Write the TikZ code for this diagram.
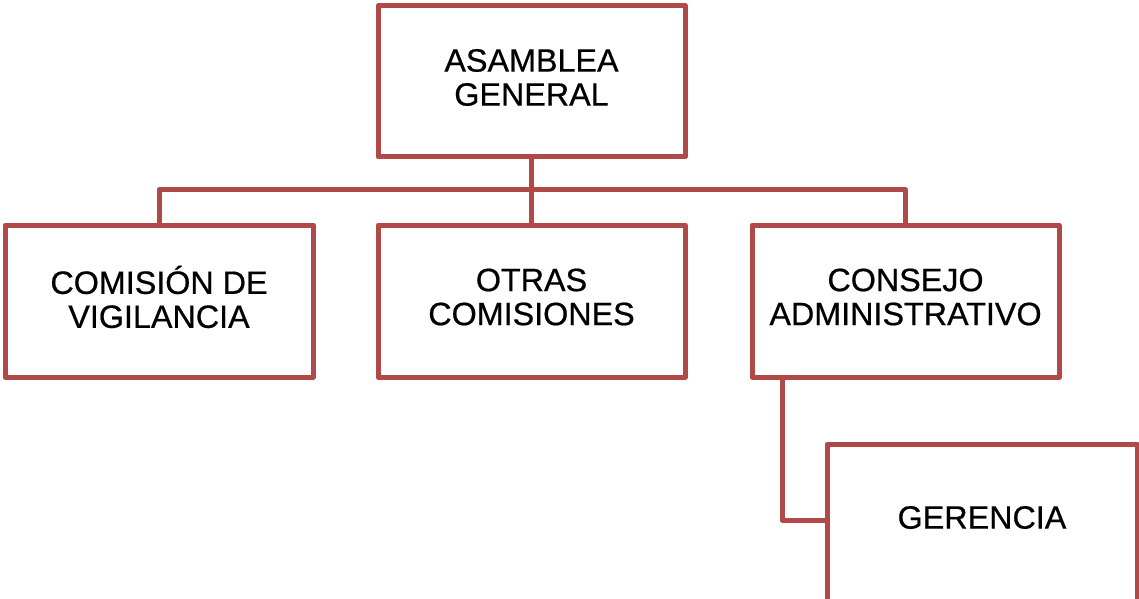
\documentclass[tikz,border=0pt]{standalone}
\usepackage{fontspec}
\setmainfont{Liberation Sans}
\newfontfamily\orgfont{Liberation Sans}[FakeBold=0.6]
\definecolor{boxred}{RGB}{176,74,72}
\begin{document}
\begin{tikzpicture}[x=1pt,y=1pt,
  orgbox/.style={draw=boxred, line width=5pt, line join=round, fill=white,
    minimum width=307pt, minimum height=152pt, inner sep=0pt},
  orglabel/.style={inner sep=0pt, align=center, font=\orgfont\fontsize{32.3}{34}\selectfont},
  conn/.style={draw=boxred, line width=5pt, line join=round}]
\clip (0,0) rectangle (1139,598);
\fill[white] (0,0) rectangle (1139,598);

% bus line height and the elbow towards GERENCIA
\coordinate (bus) at (0,408);
\coordinate (elbow) at (782,78);

% boxes
\node[orgbox, minimum height=151pt] (ag) at (531.5,516.5) {};
\node[orgbox, minimum width=308pt] (cv) at (159,297) {};
\node[orgbox] (oc) at (531.5,297) {};
\node[orgbox] (ca) at (905.5,297) {};
\node[orgbox, minimum width=310pt, minimum height=175pt, anchor=north] (ge) at (982,156) {};

% box texts
\node[orglabel] (agt) at ([yshift=4pt]ag.center) {ASAMBLEA\\GENERAL};
\node[orglabel] (cvt) at ([yshift=4pt]cv.center) {COMISIÓN DE\\VIGILANCIA};
\node[orglabel] (oct) at ([yshift=4pt]oc.center) {OTRAS\\COMISIONES};
\node[orglabel] (cat) at ([yshift=4pt]ca.center) {CONSEJO\\ADMINISTRATIVO};
\node[orglabel] (get) at (982,80.5) {GERENCIA};

% connectors
\draw[conn] (ag.south) -- (oc.north);
\draw[conn] (cv.north) -- (cv.north |- bus) -- (ca.north |- bus) -- (ca.north);
\draw[conn] (ca.south -| elbow) -- (elbow) -- (elbow -| ge.west);
\end{tikzpicture}
\end{document}
